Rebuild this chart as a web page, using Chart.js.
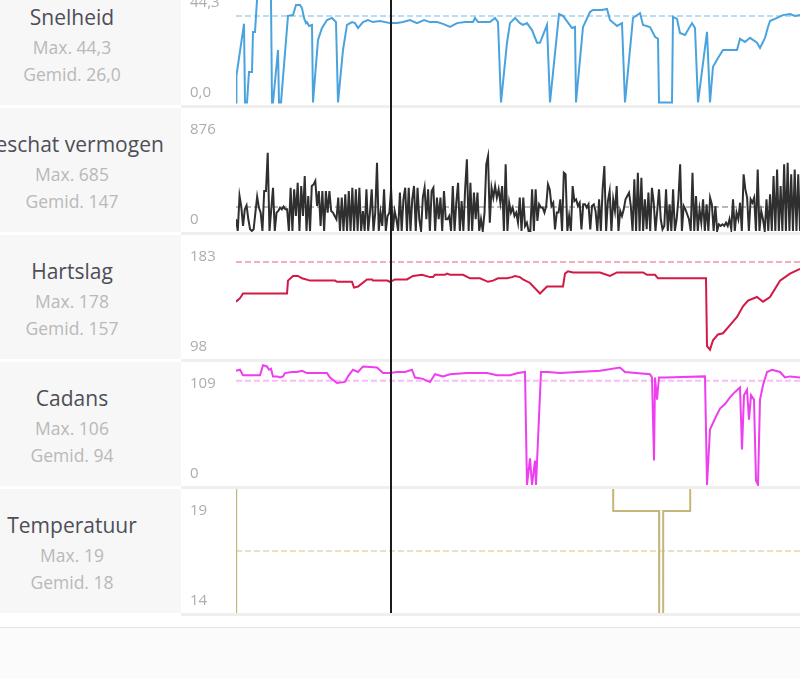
<!DOCTYPE html>
<html>
<head>
<meta charset="utf-8">
<script src="https://cdn.jsdelivr.net/npm/chart.js@4.4.0/dist/chart.umd.min.js"></script>
<style>
  body { margin: 0; width: 800px; height: 679px; overflow: hidden; background: #fff; position: relative; font-family: "Open Sans", sans-serif; }
  #rows { position: absolute; left: 0; top: -19px; width: 800px; }
  .row { position: relative; height: 124px; margin-bottom: 3px; }
  .row .sep { position: absolute; left: 181px; right: 0; top: 124px; height: 3px; background: #efefef; }
  .side { position: absolute; left: 0; top: 0; width: 181px; height: 124px; background: #f7f7f7; overflow: hidden; }
  .side div { position: absolute; left: 72px; transform: translateX(-50%); white-space: nowrap; }
  .side .name { top: 22px; font-size: 21px; line-height: 28px; color: #4e4e58; }
  .side .max { top: 54px; font-size: 17.5px; line-height: 24px; color: #b9b9b9; }
  .side .avg { top: 81px; font-size: 17.5px; line-height: 24px; color: #b9b9b9; }
  canvas { position: absolute; left: 181px; top: 0; }
  #cursor { position: absolute; top: 0; width: 2px; height: 613px; background: #1c1c1c; }
  #foot { position: absolute; left: 0; top: 627px; width: 800px; height: 52px; border-top: 1px solid #e2e2e8; background: #fbfbfb; }
</style>
</head>
<body>
<div id="rows"></div>
<div id="cursor"></div>
<div id="foot"></div>
<script>
// visible part of the ride, in km
const distanceMax = 28.2;
const cursorKm = 7.75;

const metricNames = ['Snelheid', 'Geschat vermogen', 'Hartslag', 'Cadans', 'Temperatuur'];
const maxTexts = ['44,3', '685', '178', '106', '19'];
const avgTexts = ['26,0', '147', '157', '94', '18'];

// Snelheid (km/h)
const speedKm = [0, 0.02, 0.1, 0.4, 0.45, 0.55, 0.65, 0.8, 0.85, 0.95,
  1.05, 1.2, 1.6, 1.75, 1.8, 1.85, 2.1, 2.15, 2.25, 2.6,
  2.85, 3.0, 3.2, 3.3, 3.4, 3.5, 3.55, 3.65, 3.8, 3.85,
  4.1, 4.3, 4.55, 4.8, 5.0, 5.1, 5.35, 5.55, 5.8, 5.95,
  6.1, 6.35, 6.6, 6.85, 7.2, 7.7, 8.05, 8.35, 8.7, 9.05,
  9.4, 9.7, 10.05, 10.35, 10.7, 11.05, 11.45, 11.85, 11.95, 12.1,
  12.7, 12.95, 13.1, 13.25, 13.55, 13.7, 13.95, 14.2, 14.35, 14.55,
  14.8, 15.05, 15.2, 15.55, 15.7, 16.15, 16.35, 16.8, 16.95, 17.0,
  17.35, 17.7, 17.85, 18.3, 18.55, 18.7, 19.05, 19.3, 19.45, 19.85,
  20.2, 20.35, 20.7, 20.95, 21.1, 21.15, 21.8, 21.85, 22.05, 22.2,
  22.45, 22.8, 22.95, 23.1, 23.55, 23.7, 23.85, 24.1, 24.35, 24.7,
  25.05, 25.2, 25.45, 25.7, 26.05, 26.2, 26.45, 26.6, 26.7, 27.05,
  27.35, 27.7, 27.95, 28.2, 28.5];
const speed = [0, 10.3, 14.5, 30.4, 0, 0, 11.8, 11.8, 27.3, 27.3,
  39.6, 44.3, 44.3, 39.6, 0, 0, 20.3, 0, 0, 33.5,
  33.8, 37.7, 37.7, 36.5, 32.7, 30.7, 31.1, 29.6, 30.0, 0,
  24.2, 28.8, 31.9, 32.7, 31.1, 0, 20.3, 30.0, 31.1, 30.7,
  28.8, 31.1, 31.9, 31.1, 31.5, 30.7, 30.7, 31.1, 31.9, 30.7,
  31.9, 31.1, 31.1, 30.4, 29.2, 30.7, 31.1, 31.1, 32.7, 31.1,
  31.1, 32.7, 31.1, 0, 23.1, 30.7, 32.7, 30.7, 30.0, 30.7,
  28.0, 23.1, 23.1, 30.0, 0, 34.2, 33.5, 28.8, 29.2, 0,
  29.2, 35.0, 35.8, 35.8, 36.2, 31.9, 29.6, 30.7, 0, 32.7,
  34.6, 30.0, 29.2, 25.4, 24.6, 0, 0, 33.1, 32.3, 26.9,
  26.1, 30.7, 28.8, 0, 27.3, 0, 13.8, 17.2, 20.3, 20.3,
  20.3, 24.6, 23.4, 25.0, 23.1, 21.1, 25.0, 29.2, 31.5, 32.7,
  33.8, 34.2, 33.5, 33.8, 34.0];
const speedTicks = ['0,0', '44,3'];
const speedRef = 33.5;

// Geschat vermogen (W), evenly sampled along the ride
const power = [100, 0, 300, 208, 43, 185, 219, 100, 14, 0,
  14, 157, 294, 200, 157, 0, 342, 342, 670, 0,
  185, 370, 0, 157, 171, 200, 185, 208, 185, 185,
  0, 370, 0, 356, 128, 413, 0, 385, 128, 470,
  0, 299, 0, 385, 399, 428, 214, 342, 43, 342,
  0, 342, 157, 342, 171, 157, 128, 100, 285, 0,
  285, 0, 313, 0, 342, 0, 370, 0, 356, 0,
  370, 0, 171, 0, 356, 0, 157, 356, 0, 157,
  584, 0, 157, 43, 356, 0, 128, 157, 356, 0,
  171, 100, 0, 328, 0, 271, 370, 0, 370, 0,
  271, 385, 0, 370, 100, 0, 285, 370, 100, 356,
  0, 342, 370, 0, 285, 100, 285, 0, 342, 100,
  100, 128, 0, 385, 0, 242, 413, 0, 256, 0,
  356, 613, 0, 413, 0, 328, 100, 328, 0, 100,
  0, 157, 570, 641, 71, 370, 285, 385, 285, 356,
  242, 385, 0, 570,
  0, 242, 157, 200, 128, 157, 71, 285, 0, 285,
  43, 71, 0, 0, 356, 0, 356, 86, 228, 200,
  200, 157, 214, 399, 356, 214, 242, 14, 157, 157,
  271, 0, 499, 485, 0, 128, 0, 385, 256, 271,
  214, 242, 14, 228, 228, 200, 228, 14, 214, 228,
  171, 0, 271, 0, 356, 556, 0, 256, 342, 0,
  271, 171, 385, 0, 171, 128, 185, 271, 299, 328,
  214, 0, 442, 0, 499, 0, 456, 0, 271, 14,
  328, 0, 370, 242, 0, 171, 356, 100, 14, 43,
  356, 0, 228, 0, 356, 0, 100, 271, 570, 0,
  214, 185, 143, 100, 0, 499, 0, 299, 0, 185,
  71, 271, 0, 228, 0, 285, 228, 0, 214, 0,
  57, 43, 57, 43, 71, 43, 100, 14, 271, 0,
  157, 100, 242, 0, 485, 356, 285, 0, 271, 242,
  285, 0, 527, 0, 171, 100, 0, 271, 0, 313,
  0, 470, 0, 527, 0, 385, 0, 570, 0, 584,
  0, 485, 0, 527, 0, 485, 0];
const powerTicks = ['0', '876'];
const powerRef = 205;

// Hartslag (bpm)
const hrKm = [0, 0.2, 0.35, 2.55, 2.6, 2.85, 3.1, 3.3, 3.7, 4.95,
  5.05, 5.8, 5.9, 6.1, 6.55, 6.8, 6.85, 7.55, 7.7, 7.95,
  8.55, 8.85, 9.3, 9.7, 9.85, 9.95, 10.45, 10.55, 10.7, 11.35,
  11.7, 12.2, 12.6, 12.85, 13.1, 13.55, 13.8, 13.95, 14.2, 14.35,
  14.7, 15.2, 15.55, 16.35, 16.45, 16.6, 16.85, 18.2, 18.7, 19.05,
  20.35, 20.55, 20.95, 21.1, 23.5, 23.55, 23.7, 23.85, 24.1, 24.35,
  24.7, 25.05, 25.35, 25.6, 26.05, 26.35, 26.7, 27.2, 27.7, 28.2,
  28.5];
const hr = [144, 147, 151, 151, 162, 166, 166, 164, 162, 162,
  161, 161, 156, 157, 163, 163, 162, 162, 161, 163,
  163, 166, 167, 165, 165, 167, 167, 168, 167, 167,
  164, 164, 161, 162, 164, 164, 165, 166, 165, 163,
  160, 151, 157, 157, 168, 170, 169, 169, 166, 169,
  169, 167, 167, 164, 164, 106, 103, 111, 116, 117,
  124, 131, 140, 145, 148, 144, 148, 162, 168, 172,
  174];
const hrTicks = ['98', '183'];
const hrRef = 178;

// Cadans (rpm)
const cadKm = [0, 0.2, 0.35, 1.2, 1.35, 1.55, 1.65, 1.75, 1.85, 2.05,
  2.2, 2.35, 2.45, 2.8, 3.05, 3.3, 3.55, 4.55, 4.7, 5.05,
  5.45, 5.6, 5.85, 6.1, 6.35, 7.05, 7.35, 7.7, 8.05, 8.45,
  8.8, 8.95, 9.3, 9.7, 9.95, 10.35, 10.7, 11.55, 11.7, 12.35,
  12.55, 13.05, 13.7, 14.1, 14.45, 14.55, 14.7, 14.8, 14.95, 15.0,
  15.25, 15.6, 16.2, 18.2, 19.2, 19.45, 20.7, 20.8, 20.9, 20.95,
  21.05, 21.15, 21.45, 23.45, 23.55, 23.7, 23.95, 24.2, 24.45, 24.7,
  24.95, 25.2, 25.3, 25.4, 25.55, 25.65, 25.75, 25.9, 26.0, 26.1,
  26.2, 26.35, 26.55, 26.8, 27.2, 27.45, 27.7, 28.2, 28.5];
const cadence = [103, 104, 99, 99, 108, 107, 104, 105, 98, 98,
  97, 98, 101, 102, 102, 103, 101, 101, 97, 92,
  93, 98, 104, 102, 107, 106, 101, 101, 102, 102,
  104, 97, 96, 93, 100, 98, 100, 101, 101, 101,
  101, 99, 99, 101, 102, 0, 24, 0, 22, 0,
  102, 102, 101, 103, 106, 102, 100, 97, 22, 97,
  77, 97, 97, 98, 0, 50, 60, 69, 73, 79,
  84, 88, 32, 81, 86, 59, 81, 77, 4, 0,
  77, 90, 102, 104, 102, 97, 98, 97, 97];
const cadTicks = ['0', '109'];
const cadRef = 94;

// Temperatuur (°C)
const tempKm = [0, 0.01, 18.85, 18.86, 21.15, 21.16, 21.35, 21.36, 22.7, 22.71, 28.5];
const temp = [16, 20, 20, 19, 19, 16, 16, 19, 19, 20, 20];
const tempTicks = ['14', '19'];
const tempRef = 18;

const powerKm = power.map((v, i) => i * distanceMax / (power.length - 1));

const panels = [
  { km: speedKm, vals: speed, ticks: speedTicks, ref: speedRef, min: -1, max: 47, color: '#4ba3de', refColor: '#bcdcf2' },
  { km: powerKm, vals: power, ticks: powerTicks, ref: powerRef, min: -9, max: 1053, color: '#2f2f2f', refColor: '#b8b8b8' },
  { km: hrKm, vals: hr, ticks: hrTicks, ref: hrRef, min: 95, max: 201, color: '#d21a45', refColor: '#f4adbb' },
  { km: cadKm, vals: cadence, ticks: cadTicks, ref: cadRef, min: -1, max: 111, color: '#ee3ef0', refColor: '#f7bdf7' },
  { km: tempKm, vals: temp, ticks: tempTicks, ref: tempRef, min: 16.45, max: 19.55, color: '#c4b77c', refColor: '#e9e2bd' }
];

const rows = document.getElementById('rows');
const charts = [];

panels.forEach(function(p, n) {
  const row = document.createElement('div');
  row.className = 'row';
  row.innerHTML =
    '<div class="side"><div class="name">' + metricNames[n] + '</div>' +
    '<div class="max">Max. ' + maxTexts[n] + '</div>' +
    '<div class="avg">Gemid. ' + avgTexts[n] + '</div></div>' +
    '<canvas width="619" height="124"></canvas><div class="sep"></div>';
  rows.appendChild(row);

  charts.push(new Chart(row.querySelector('canvas'), {
    type: 'line',
    data: {
      datasets: [
        {
          data: p.km.map((x, i) => ({ x: x, y: p.vals[i] })),
          borderColor: p.color, borderWidth: 2, pointRadius: 0, tension: 0
        },
        {
          data: [{ x: 0, y: p.ref }, { x: distanceMax, y: p.ref }],
          borderColor: p.refColor, borderWidth: 2, borderDash: [6, 3], pointRadius: 0
        }
      ]
    },
    options: {
      responsive: false,
      animation: false,
      devicePixelRatio: 1,
      layout: { padding: { left: 9 }, autoPadding: false },
      plugins: { legend: { display: false }, tooltip: { enabled: false } },
      scales: {
        x: { type: 'linear', min: 0, max: distanceMax, display: false },
        y: {
          type: 'linear', position: 'left', min: p.min, max: p.max,
          grid: { display: false }, border: { display: false },
          afterBuildTicks: function(scale) {
            const span = scale.max - scale.min;
            scale.ticks = [{ value: scale.max - span * 112 / 124 }, { value: scale.max - span * 22 / 124 }];
          },
          afterFit: function(scale) {
            scale.width = 46;
            scale.paddingTop = 0;
            scale.paddingBottom = 0;
          },
          ticks: {
            crossAlign: 'far', padding: 0, color: '#adadad',
            font: { family: 'Open Sans', size: 15 },
            callback: function(value, index) { return p.ticks[index]; }
          }
        }
      }
    }
  }));
});

// hover cursor across all panels
const cur = document.getElementById('cursor');
cur.style.left = (181 + charts[0].scales.x.getPixelForValue(cursorKm) - 1) + 'px';
</script>
</body>
</html>
